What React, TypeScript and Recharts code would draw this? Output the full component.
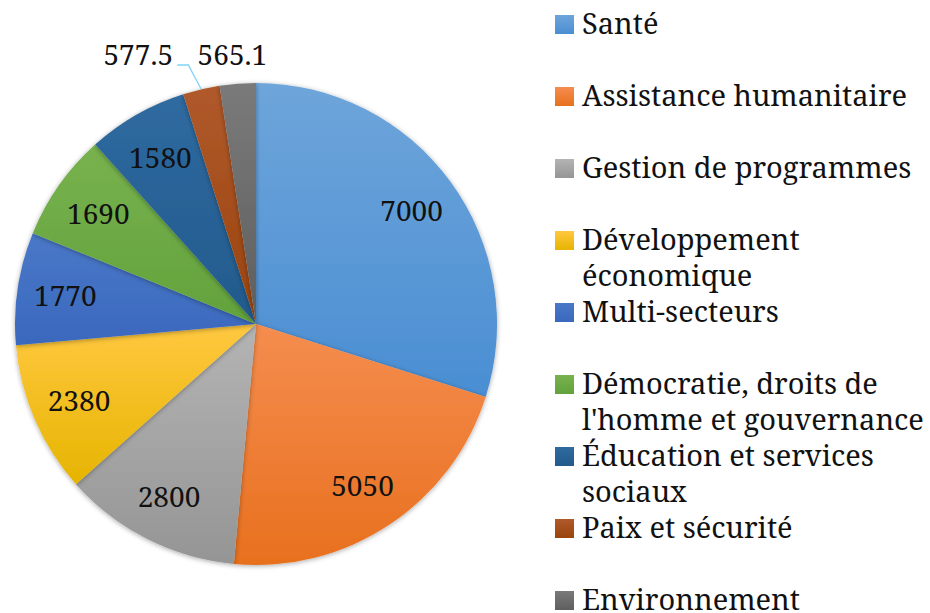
import React from "react";
import { PieChart, Pie, Cell, Legend } from "recharts";

const categories = [
  "Santé",
  "Assistance humanitaire",
  "Gestion de programmes",
  "Développement économique",
  "Multi-secteurs",
  "Démocratie, droits de l'homme et gouvernance",
  "Éducation et services sociaux",
  "Paix et sécurité",
  "Environnement",
];
const values = [7000, 5050, 2800, 2380, 1770, 1690, 1580, 577.5, 565.1];
const valueLabels = ["7000", "5050", "2800", "2380", "1770", "1690", "1580", "577.5", "565.1"];
const legendLines = [
  ["Santé"],
  ["Assistance humanitaire"],
  ["Gestion de programmes"],
  ["Développement", "économique"],
  ["Multi-secteurs"],
  ["Démocratie, droits de", "l'homme et gouvernance"],
  ["Éducation et services", "sociaux"],
  ["Paix et sécurité"],
  ["Environnement"],
];
const colorsTop = ["#6ea5da", "#f58d4f", "#b4b4b4", "#ffc840", "#4a78c8", "#78b24e", "#2f6aa0", "#b0592c", "#7a7a7a"];
const colorsBottom = ["#4a8ed3", "#e8701e", "#959595", "#e6b400", "#3a68bd", "#62a23c", "#225a8c", "#9a440c", "#5e5e5e"];

const data = categories.map((name, i) => ({ name, value: values[i], label: valueLabels[i] }));

const FONT = "Noto Serif";
const RAD = Math.PI / 180;
const LABEL_SIZE = 28;

const renderLabel = (props: any) => {
  const { cx, cy, midAngle, outerRadius, index } = props;
  const label = valueLabels[index];
  const common = {
    textAnchor: "middle" as const,
    dominantBaseline: "central" as const,
    fontSize: LABEL_SIZE,
    fill: "#111",
    style: { fontFamily: FONT },
  };
  if (index === 7) {
    const ex = cx + outerRadius * Math.cos(-midAngle * RAD);
    const ey = cy + outerRadius * Math.sin(-midAngle * RAD);
    const ty = cy - outerRadius - 29;
    return (
      <g key={"l" + index}>
        <polyline
          points={`${ex},${ey} ${ex - 13},${ty + 11} ${ex - 24},${ty + 11}`}
          fill="none"
          stroke="#7fd3f7"
          strokeWidth={1.3}
        />
        <text x={ex - 63} y={ty} {...common}>
          {label}
        </text>
      </g>
    );
  }
  if (index === 8) {
    const r = outerRadius + 31;
    const x = cx + r * Math.cos(-midAngle * RAD) - 3;
    const y = cy - outerRadius - 29;
    return (
      <text key={"l" + index} x={x} y={y} {...common}>
        {label}
      </text>
    );
  }
  const r = outerRadius * 0.8;
  const x = cx + r * Math.cos(-midAngle * RAD);
  const y = cy + r * Math.sin(-midAngle * RAD);
  return (
    <text key={"l" + index} x={x} y={y} {...common}>
      {label}
    </text>
  );
};

const renderLegend = () => (
  <div style={{ position: "relative", width: 375, height: 613 }}>
    {legendLines.map((lines, i) => (
      <div key={i} style={{ position: "absolute", left: 0, top: 5 + i * 72, display: "flex" }}>
        <div
          style={{
            width: 19,
            height: 19,
            marginTop: 10,
            marginRight: 8,
            background: `linear-gradient(${colorsTop[i]}, ${colorsBottom[i]})`,
          }}
        />
        <div style={{ fontFamily: FONT, fontSize: 29, lineHeight: "36px", color: "#111", whiteSpace: "nowrap" }}>
          {lines.map((l, j) => (
            <div key={j}>{l}</div>
          ))}
        </div>
      </div>
    ))}
  </div>
);

export default function App() {
  return (
    <div style={{ width: 930, height: 613, background: "#fff", overflow: "hidden" }}>
      <style>{`body{margin:0}`}</style>
      <PieChart width={930} height={613} margin={{ top: 0, right: 0, bottom: 0, left: 0 }}>
        <defs>
          {colorsTop.map((c, i) => (
            <linearGradient key={i} id={`g${i}`} x1="0" y1="0" x2="0" y2="1">
              <stop offset="0%" stopColor={c} />
              <stop offset="100%" stopColor={colorsBottom[i]} />
            </linearGradient>
          ))}
          <filter id="shadow" x="-10%" y="-10%" width="120%" height="120%">
            <feDropShadow dx="0" dy="1" stdDeviation="2.5" floodColor="#000" floodOpacity="0.35" />
          </filter>
        </defs>
        <Pie
          data={data}
          dataKey="value"
          nameKey="name"
          cx={256}
          cy={324}
          outerRadius={241}
          startAngle={90}
          endAngle={-270}
          stroke="none"
          label={renderLabel}
          labelLine={false}
          isAnimationActive={false}
          style={{ filter: "url(#shadow)" }}
        >
          {data.map((d, i) => (
            <Cell key={i} fill={`url(#g${i})`} />
          ))}
        </Pie>
        <Legend
          layout="vertical"
          align="right"
          verticalAlign="top"
          content={renderLegend}
          wrapperStyle={{ left: 555, top: 0, width: 375 }}
        />
      </PieChart>
    </div>
  );
}
